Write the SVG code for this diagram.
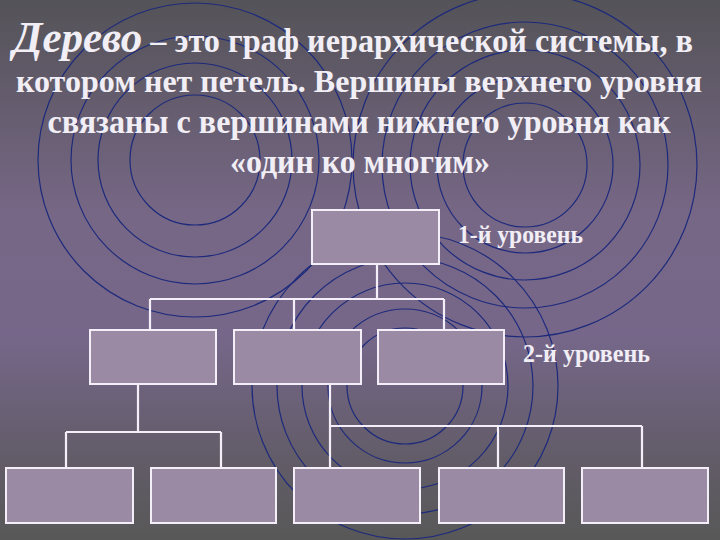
<svg xmlns="http://www.w3.org/2000/svg" width="720" height="540" viewBox="0 0 720 540">
  <defs>
    <linearGradient id="bg" x1="0" y1="0" x2="0" y2="1">
      <stop offset="0" stop-color="#545358"/>
      <stop offset="0.4" stop-color="#776786"/>
      <stop offset="0.62" stop-color="#76678a"/>
      <stop offset="0.85" stop-color="#625c68"/>
      <stop offset="1" stop-color="#585858"/>
    </linearGradient>
    <style>
      .ring { fill: none; stroke: #1d2a7c; stroke-width: 1.2; }
      .node { fill: #9a8aa4; stroke: #f4eef8; stroke-width: 2; }
      .conn { fill: none; stroke: #f4eef8; stroke-width: 2.2; }
      .t { font-family: "Liberation Serif", "Times New Roman", serif; font-weight: bold; fill: #f1eef5; }
      .title { font-size: 33px; }
      .lbl { font-size: 25px; }
    </style>
  </defs>

  <g id="background">
    <rect x="0" y="0" width="720" height="540" fill="url(#bg)"/>
    <g id="rings-left">
      <circle class="ring" cx="195" cy="160" r="65"/>
      <circle class="ring" cx="195" cy="160" r="97"/>
      <circle class="ring" cx="195" cy="160" r="124"/>
      <circle class="ring" cx="195" cy="160" r="157"/>
    </g>
    <g id="rings-right">
      <circle class="ring" cx="525" cy="165" r="62"/>
      <circle class="ring" cx="525" cy="165" r="88"/>
      <circle class="ring" cx="525" cy="165" r="115"/>
      <circle class="ring" cx="525" cy="165" r="143"/>
      <circle class="ring" cx="525" cy="165" r="172"/>
    </g>
    <g id="rings-bottom">
      <circle class="ring" cx="405" cy="386" r="58"/>
      <circle class="ring" cx="405" cy="386" r="77"/>
      <circle class="ring" cx="405" cy="386" r="103"/>
      <circle class="ring" cx="405" cy="386" r="128"/>
      <circle class="ring" cx="405" cy="386" r="153"/>
    </g>
  </g>

  <g id="title">
    <text class="t title" x="13" y="52" textLength="680" lengthAdjust="spacingAndGlyphs"><tspan font-style="italic" font-size="44">Дерево</tspan> – это граф иерархической системы, в</text>
    <text class="t title" x="359" y="92" font-size="32" style="font-size:32px" text-anchor="middle" textLength="686" lengthAdjust="spacingAndGlyphs">котором нет петель. Вершины верхнего уровня</text>
    <text class="t title" x="359" y="133" text-anchor="middle" textLength="623" lengthAdjust="spacingAndGlyphs">связаны с вершинами нижнего уровня как</text>
    <text class="t title" x="360" y="173" text-anchor="middle" textLength="260" lengthAdjust="spacingAndGlyphs">«один ко многим»</text>
  </g>

  <g id="connectors">
    <path class="conn" d="M377 264 V299 M150 299 H444 M150 299 V330 M294 299 V330 M444 299 V330"/>
    <path class="conn" d="M138 384 V432 M66 432 H221 M66 432 V468 M221 432 V468"/>
    <path class="conn" d="M330 384 V468 M330 426 H642 M498 426 V468 M642 426 V468"/>
  </g>

  <g id="root"><rect class="node" x="312" y="210" width="127" height="54"/></g>
  <g id="n2-1"><rect class="node" x="90" y="330" width="126" height="54"/></g>
  <g id="n2-2"><rect class="node" x="234" y="330" width="127" height="54"/></g>
  <g id="n2-3"><rect class="node" x="378" y="330" width="126" height="54"/></g>
  <g id="n3-1"><rect class="node" x="6" y="468" width="127" height="55"/></g>
  <g id="n3-2"><rect class="node" x="151" y="468" width="125" height="55"/></g>
  <g id="n3-3"><rect class="node" x="294" y="468" width="126" height="55"/></g>
  <g id="n3-4"><rect class="node" x="439" y="468" width="125" height="55"/></g>
  <g id="n3-5"><rect class="node" x="582" y="468" width="126" height="55"/></g>

  <g id="labels">
    <text class="t lbl" x="458" y="243" textLength="125" lengthAdjust="spacingAndGlyphs">1-й уровень</text>
    <text class="t lbl" x="523" y="362" textLength="127" lengthAdjust="spacingAndGlyphs">2-й уровень</text>
  </g>
</svg>
